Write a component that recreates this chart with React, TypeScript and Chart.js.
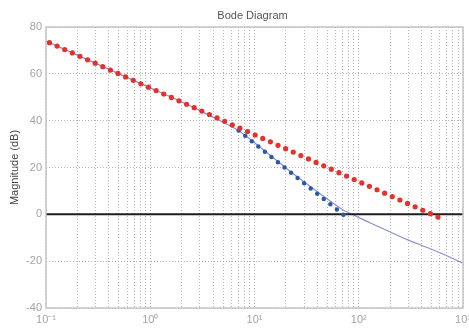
import React, { useEffect, useRef } from "react";
import { Chart, registerables } from "chart.js";

Chart.register(...registerables);

// Solid magnitude curve (frequency in rad/s, magnitude in dB)
const freq = [0.1, 1, 2, 3, 5, 7, 10, 20, 30, 50, 70, 86, 128, 186, 300, 479, 700, 1000];
const magnitude = [74, 54, 48, 44.3, 39.3, 35.8, 30.6, 19.8, 13.8, 6.5, 2, 0, -3.6, -6.9, -11, -14.6, -17.7, -20.9];

// Red dotted asymptote (start / end)
const redFreq = [0.108, 640];
const redMag = [73.3, -2.1];

// Blue dotted asymptote (start / end)
const blueFreq = [6.1, 76];
const blueMag = [38, -1.2];

// Zero dB reference line
const zeroFreq = [0.1, 1000];
const zeroMag = [0, 0];

const xDecades = [-1, 0, 1, 2, 3];
const xTickLabels = ["10⁻¹", "10⁰", "10¹", "10²", "10³"];
const yTicks = [-40, -20, 0, 20, 40, 60, 80];

const title = "Bode Diagram";
const yTitle = "Magnitude (dB)";

const FONT = "'Liberation Sans', Arial, sans-serif";

const pts = (xs: number[], ys: number[]) => xs.map((x, i) => ({ x, y: ys[i] }));

export default function App() {
  const ref = useRef<HTMLCanvasElement | null>(null);

  useEffect(() => {
    if (!ref.current) return;

    const framePlugin = {
      id: "frame",
      afterDraw(chart: any) {
        const { ctx, chartArea: a } = chart;
        ctx.save();
        ctx.strokeStyle = "#c4c4c4";
        ctx.lineWidth = 1.5;
        ctx.strokeRect(a.left, a.top, a.right - a.left, a.bottom - a.top);
        ctx.fillStyle = "#555";
        ctx.font = `11px ${FONT}`;
        ctx.textAlign = "center";
        ctx.textBaseline = "alphabetic";
        ctx.fillText(title, (a.left + a.right) / 2 - 2, 19);
        ctx.translate(15, (a.top + a.bottom) / 2);
        ctx.rotate(-Math.PI / 2);
        ctx.fillStyle = "#444";
        ctx.textBaseline = "middle";
        ctx.fillText(yTitle, 0, 0);
        ctx.restore();
      },
    };

    const chart = new Chart(ref.current, {
      type: "line",
      data: {
        datasets: [
          {
            data: pts(redFreq, redMag),
            borderColor: "#e6302c",
            borderWidth: 5.2,
            borderDash: [0, 8.35],
            borderCapStyle: "round",
            pointRadius: 0,
            clip: false,
          } as any,
          {
            data: pts(blueFreq, blueMag),
            borderColor: "#2b58a8",
            borderWidth: 4.5,
            borderDash: [0, 8.4],
            borderCapStyle: "round",
            pointRadius: 0,
          } as any,
          {
            data: pts(zeroFreq, zeroMag),
            borderColor: "#1e1e1e",
            borderWidth: 2,
            pointRadius: 0,
          },
          {
            data: pts(freq, magnitude),
            borderColor: "#8a8ed2",
            borderWidth: 1.2,
            pointRadius: 0,
            cubicInterpolationMode: "monotone",
          } as any,
        ],
      },
      options: {
        animation: false,
        responsive: false,
        events: [],
        layout: { padding: { top: 27, right: 6, left: 0, bottom: 0 } },
        plugins: { legend: { display: false }, tooltip: { enabled: false } },
        scales: {
          x: {
            type: "logarithmic",
            min: 0.1,
            max: 1000,
            afterBuildTicks(scale: any) {
              const t: { value: number }[] = [];
              for (let e = -1; e < 3; e++) {
                for (let m = 1; m < 10; m++) t.push({ value: m * Math.pow(10, e) });
              }
              t.push({ value: 1000 });
              scale.ticks = t;
            },
            afterFit(scale: any) {
              scale.height = 20;
              scale.paddingLeft = 0;
              scale.paddingRight = 0;
            },
            ticks: {
              autoSkip: false,
              maxRotation: 0,
              minRotation: 0,
              padding: 5,
              color: "#a3a3a3",
              font: { family: FONT, size: 11 },
              callback: (v: any) => {
                const l = Math.log10(Number(v));
                const i = xDecades.findIndex((d) => Math.abs(d - l) < 1e-6);
                return i >= 0 ? xTickLabels[i] : "";
              },
            },
            grid: {
              color: "#b4b4b4",
              lineWidth: 1,
              drawTicks: false,
            },
            border: { display: false, dash: [1, 2] },
          } as any,
          y: {
            min: -40,
            max: 80,
            afterBuildTicks(scale: any) {
              scale.ticks = yTicks.map((v) => ({ value: v }));
            },
            afterFit(scale: any) {
              scale.width = 46;
              scale.paddingTop = 0;
              scale.paddingBottom = 0;
            },
            ticks: {
              padding: 4,
              color: "#a3a3a3",
              font: { family: FONT, size: 11 },
            },
            grid: {
              color: "#b4b4b4",
              lineWidth: 1,
              drawTicks: false,
            },
            border: { display: false, dash: [1, 2] },
          } as any,
        },
      },
      plugins: [framePlugin],
    });

    return () => chart.destroy();
  }, []);

  return (
    <div style={{ position: "absolute", left: 0, top: 0, width: 469, height: 328 }}>
      <canvas ref={ref} width={469} height={328} />
    </div>
  );
}
